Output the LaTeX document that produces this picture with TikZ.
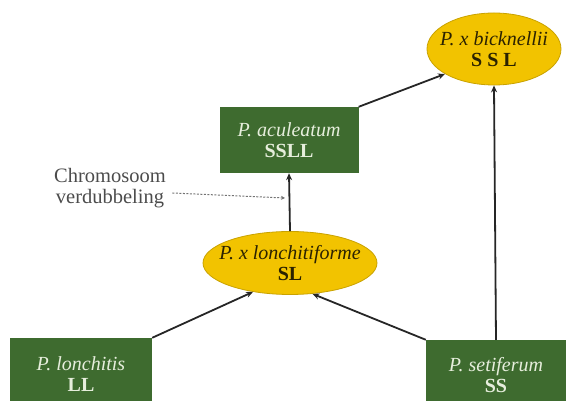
\documentclass[tikz,border=0pt]{standalone}
\usepackage{fontspec}
\setmainfont{Liberation Serif}
\usetikzlibrary{shapes.geometric,arrows.meta,calc}
\definecolor{boxgreen}{HTML}{3E6B2F}
\definecolor{boxtext}{HTML}{E6EEDC}
\definecolor{ellfill}{HTML}{F2C300}
\definecolor{elldraw}{HTML}{C9A200}
\definecolor{elltext}{HTML}{2B2200}
\tikzset{
  x=1pt,y=1pt,
  greenbox/.style={rectangle,fill=boxgreen,text=boxtext,align=center,inner sep=0pt,
    font=\fontsize{20}{21}\selectfont},
  yellowell/.style={ellipse,fill=ellfill,draw=elldraw,line width=0.8pt,text=elltext,align=center,inner ysep=0pt,
    font=\fontsize{20}{21}\selectfont},
  arr/.style={draw=black!85,line width=1.8pt,-{Stealth[length=7pt,width=6pt]}},
  dasharr/.style={draw=black!55,line width=1pt,dashed,dash pattern=on 2pt off 1.5pt,-{Stealth[length=4pt,width=4pt]}},
  note/.style={text=black!70,align=center,font=\fontsize{20.5}{21}\selectfont}
}
\begin{document}
\begin{tikzpicture}
\useasboundingbox (0,0) rectangle (566,401);
\clip (0,0) rectangle (566,401);
\node[yellowell,inner xsep=-7pt,minimum width=134,minimum height=72] (bick) at (494,352) {\textit{P. x bicknellii}\\\textbf{S S L}};
\node[greenbox,minimum width=139,minimum height=66] (acul) at (289,261) {\textit{P. aculeatum}\\\textbf{SSLL}};
\node[yellowell,inner xsep=-11pt,minimum width=174,minimum height=63] (lonf) at (290,138) {\textit{P. x lonchitiforme}\\\textbf{SL}};
\node[greenbox,minimum width=142,minimum height=72] (lonc) at (81,27) {\textit{P. lonchitis}\\\textbf{LL}};
\node[greenbox,minimum width=140,minimum height=70] (seti) at (496,26) {\textit{P. setiferum}\\\textbf{SS}};
\node[note] (chrom) at (110,213) {Chromosoom\\verdubbeling};
\coordinate (dup) at (285,203);
\draw[arr] (lonc.north east) -- (lonf.218);
\draw[arr] (seti.north west) -- (lonf.306);
\draw[arr] (lonf.north) -- (acul.south);
\draw[arr] (acul.north east) -- (bick.207);
\draw[arr] (seti.north) -- (bick.south);
\draw[dasharr] ($(chrom.east)+(3,-5)$) -- (dup);
\end{tikzpicture}
\end{document}
